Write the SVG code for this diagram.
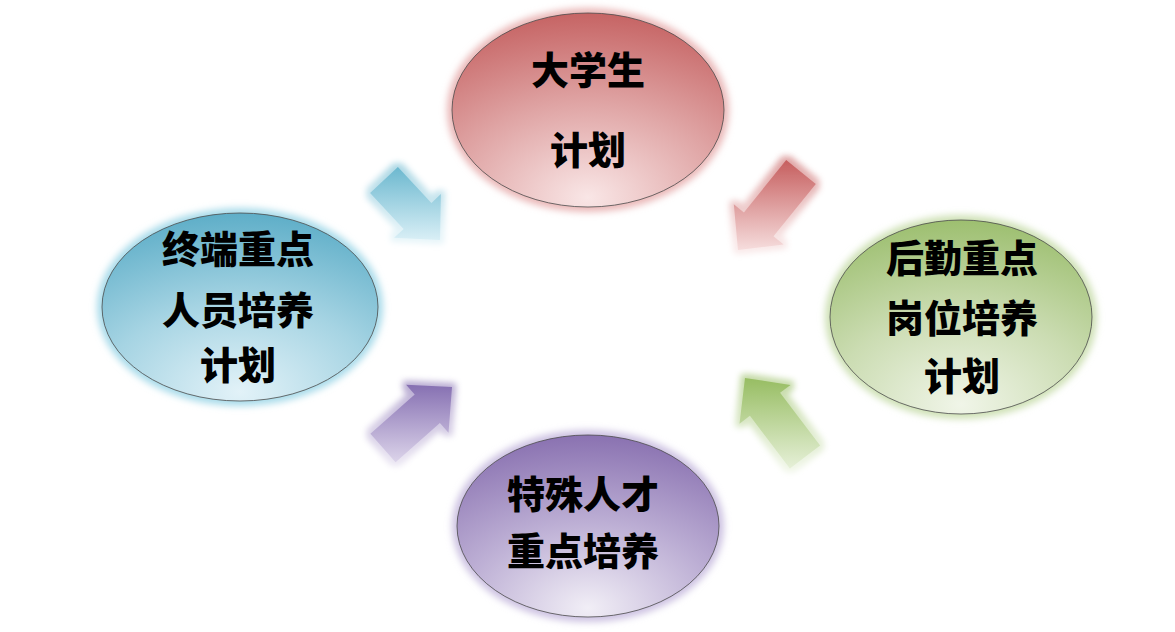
<svg xmlns="http://www.w3.org/2000/svg" width="1175" height="632" viewBox="0 0 1175 632">
<defs>
<style>
.lbl{font-family:"Noto Sans CJK SC","Noto Sans",sans-serif;font-weight:900;font-size:38px;fill:#000;text-anchor:middle}
.edge{stroke:#4a4a4a;stroke-width:0.8}
</style>
<filter id="blur" x="-20%" y="-20%" width="140%" height="140%"><feGaussianBlur stdDeviation="3.5"/></filter>
<filter id="glow" x="-30%" y="-30%" width="160%" height="160%">
<feMorphology in="SourceGraphic" operator="dilate" radius="4" result="d"/>
<feGaussianBlur in="d" stdDeviation="3" result="b"/>
<feComponentTransfer in="b" result="g"><feFuncA type="linear" slope="0.6"/></feComponentTransfer>
<feMerge><feMergeNode in="g"/><feMergeNode in="SourceGraphic"/></feMerge>
</filter>
<radialGradient id="gRed" cx="0.5" cy="1" r="1" fx="0.5" fy="0.95">
<stop offset="0" stop-color="#f9e6e6"/><stop offset="0.5" stop-color="#e0a6a6"/><stop offset="1" stop-color="#c66464"/>
</radialGradient>
<radialGradient id="gBlue" cx="0.5" cy="1" r="1" fx="0.5" fy="0.95">
<stop offset="0" stop-color="#e2f2f8"/><stop offset="0.5" stop-color="#a6d4e3"/><stop offset="1" stop-color="#5eaec8"/>
</radialGradient>
<radialGradient id="gGreen" cx="0.5" cy="1" r="1" fx="0.5" fy="0.95">
<stop offset="0" stop-color="#f0f5e8"/><stop offset="0.5" stop-color="#cbdcb2"/><stop offset="1" stop-color="#9dbf70"/>
</radialGradient>
<radialGradient id="gPurple" cx="0.5" cy="1" r="1" fx="0.5" fy="0.95">
<stop offset="0" stop-color="#f1eef6"/><stop offset="0.5" stop-color="#bcaed4"/><stop offset="1" stop-color="#8a72b1"/>
</radialGradient>
<linearGradient id="aBlue" x1="0" y1="0" x2="0" y2="1"><stop offset="0" stop-color="#6cb8cf"/><stop offset="1" stop-color="#d9eff6"/></linearGradient>
<linearGradient id="aRed" x1="0" y1="0" x2="0" y2="1"><stop offset="0" stop-color="#c65e5e"/><stop offset="1" stop-color="#f6dddd"/></linearGradient>
<linearGradient id="aPurple" x1="0" y1="0" x2="0" y2="1"><stop offset="0" stop-color="#8670b2"/><stop offset="1" stop-color="#dcd4ea"/></linearGradient>
<linearGradient id="aGreen" x1="0" y1="0" x2="0" y2="1"><stop offset="0" stop-color="#97bd62"/><stop offset="1" stop-color="#e6f0d8"/></linearGradient>
</defs>
<rect width="1175" height="632" fill="#fff"/>

<g id="connectors">
<path d="M370.1,193 L403.6,228.9 L394.1,237.7 L440,240 L440.9,194.1 L431.4,202.9 L397.9,167 Z" fill="url(#aBlue)" filter="url(#glow)"/>
<path d="M786.2,160.1 L743.9,212.4 L733.8,204.2 L738,250 L783.6,244.4 L773.5,236.2 L815.8,183.9 Z" fill="url(#aRed)" filter="url(#glow)"/>
<path d="M395.6,462.2 L439.9,423 L448.5,432.8 L452,387 L406.1,384.8 L414.7,394.6 L370.4,433.8 Z" fill="url(#aPurple)" filter="url(#glow)"/>
<path d="M820.1,445.5 L780.1,392.8 L790.5,384.9 L745,378 L739.5,423.7 L749.9,415.8 L789.9,468.5 Z" fill="url(#aGreen)" filter="url(#glow)"/>
</g>

<g id="node-top">
<ellipse cx="588" cy="110" rx="141" ry="102" fill="#eab8b8" filter="url(#blur)"/>
<ellipse class="edge" cx="588" cy="110" rx="136" ry="97" fill="url(#gRed)"/>
<text class="lbl" x="588" y="84">大学生</text>
<text class="lbl" x="588" y="164">计划</text>
</g>

<g id="node-left">
<ellipse cx="240" cy="307" rx="143" ry="99" fill="#a9dbea" filter="url(#blur)"/>
<ellipse class="edge" cx="240" cy="307" rx="138" ry="94" fill="url(#gBlue)"/>
<text class="lbl" x="238" y="263">终端重点</text>
<text class="lbl" x="238" y="324">人员培养</text>
<text class="lbl" x="238" y="379">计划</text>
</g>

<g id="node-right">
<ellipse cx="961" cy="317" rx="136" ry="102" fill="#cfe1b6" filter="url(#blur)"/>
<ellipse class="edge" cx="961" cy="317" rx="131" ry="97" fill="url(#gGreen)"/>
<text class="lbl" x="962" y="272">后勤重点</text>
<text class="lbl" x="962" y="332">岗位培养</text>
<text class="lbl" x="962" y="390">计划</text>
</g>

<g id="node-bottom">
<ellipse cx="588" cy="526" rx="136" ry="96" fill="#cdc2e2" filter="url(#blur)"/>
<ellipse class="edge" cx="588" cy="526" rx="131" ry="91" fill="url(#gPurple)"/>
<text class="lbl" x="583" y="508">特殊人才</text>
<text class="lbl" x="583" y="565">重点培养</text>
</g>
</svg>
